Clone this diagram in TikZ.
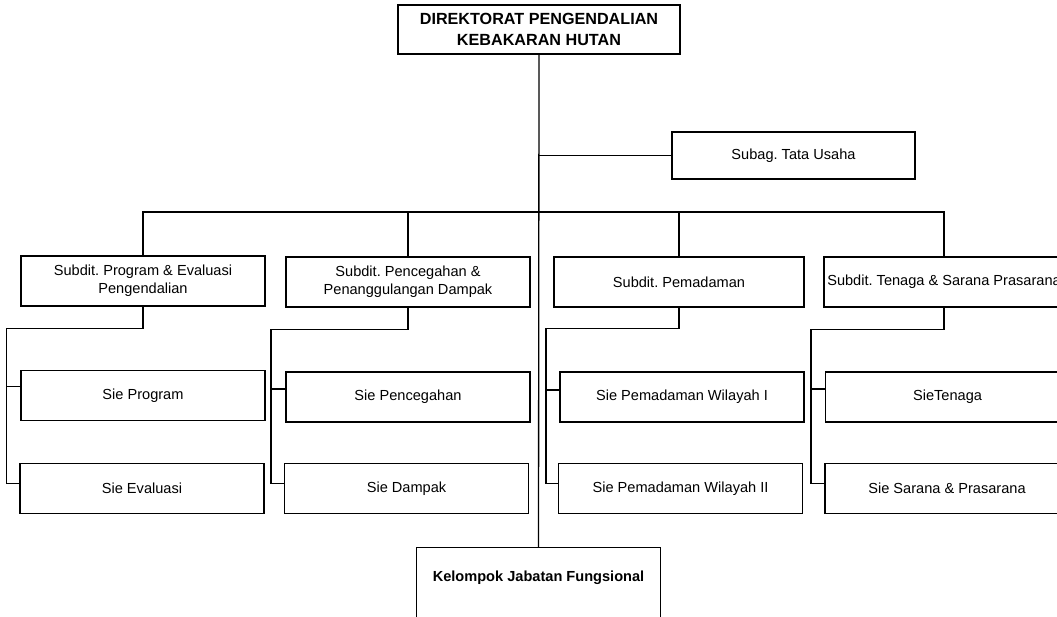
\documentclass[tikz,border=0pt]{standalone}
\usepackage{fontspec}
\setmainfont{Liberation Sans}
\frenchspacing

\tikzset{
  unit/.style={draw, line width=0.75pt, align=center, inner sep=0pt,
    minimum width=4.88cm, minimum height=1cm, font=\fontsize{8.3}{10}\selectfont},
  link/.style={line width=0.75pt}
}

\begin{document}
\begin{tikzpicture}[x=0.02cm, y=-0.02cm]
\clip (0,0) rectangle (1057,616);

% Direktorat and Tata Usaha
\node[unit, minimum width=5.64cm, minimum height=0.98cm,
  font=\fontsize{9.2}{11.5}\selectfont\bfseries] (dir) at (539,29.5)
  {DIREKTORAT PENGENDALIAN\\KEBAKARAN HUTAN};
\node[unit, minimum width=4.86cm, minimum height=0.94cm] (tu) at (793.5,155.5) {Subag. Tata Usaha};

% Subdit boxes
\node[unit] (s1) at (143,281) {Subdit. Program \& Evaluasi\\Pengendalian};
\node[unit] (s2) at (408,282) {Subdit. Pencegahan \&\\Penanggulangan Dampak};
\node[unit, minimum width=5cm] (s3) at (679,282) {Subdit. Pemadaman};
\node[unit, minimum width=4.8cm] (s4) at (944,282) {Subdit. Tenaga \& Sarana Prasarana};

% Sie boxes
\node[unit] (p1) at (143,395.5) {Sie Program};
\node[unit] (e1) at (142,488.5) {Sie Evaluasi};
\node[unit] (p2) at (408,397) {Sie Pencegahan};
\node[unit] (e2) at (406.5,488.5) {Sie Dampak};
\node[unit] (p3) at (682,397) {Sie Pemadaman Wilayah I};
\node[unit] (e3) at (680.5,488.5) {Sie Pemadaman Wilayah II};
\node[unit] (p4) at (947.5,397) {SieTenaga};
\node[unit] (e4) at (947,488.5) {Sie Sarana \& Prasarana};

% Kelompok Jabatan Fungsional
\node[unit, anchor=north, inner ysep=13pt, text depth=60pt,
  font=\fontsize{8.3}{10}\selectfont\bfseries] (kjf) at (538.5,547)
  {Kelompok Jabatan Fungsional};

% Main line and bus
\coordinate (bus) at (539,212);
\draw[link] (dir.south) -- (kjf.north);
\draw[link] (tu.west) -- (tu.west -| dir.south);
\draw[link] (s1.north) -- (s1.north |- bus) -- (s4.north |- bus) -- (s4.north);
\draw[link] (s2.north) -- (s2.north |- bus);
\draw[link] (s3.north) -- (s3.north |- bus);

% Subdit to Sie
\draw[link] (s1.south) -- ++(0,22) -| ([xshift=-0.26cm,yshift=3pt]e1.west) -- ([yshift=3pt]e1.west);
\draw[link] ([yshift=5pt]p1.west) -- ++(-13,0);
\draw[link] (s2.south) -- ++(0,22) -| ([xshift=-0.26cm,yshift=3pt]e2.west) -- ([yshift=3pt]e2.west);
\draw[link] ([yshift=4.5pt]p2.west) -- ++(-13,0);
\draw[link] (s3.south) -- ++(0,21) -| ([xshift=-0.24cm,yshift=3pt]e3.west) -- ([yshift=3pt]e3.west);
\draw[link] ([yshift=4pt]p3.west) -- ++(-13,0);
\draw[link] (s4.south) -- ++(0,22) -| ([xshift=-0.27cm,yshift=3pt]e4.west) -- ([yshift=3pt]e4.west);
\draw[link] ([yshift=4.5pt]p4.west) -- ++(-14,0);
\end{tikzpicture}
\end{document}
